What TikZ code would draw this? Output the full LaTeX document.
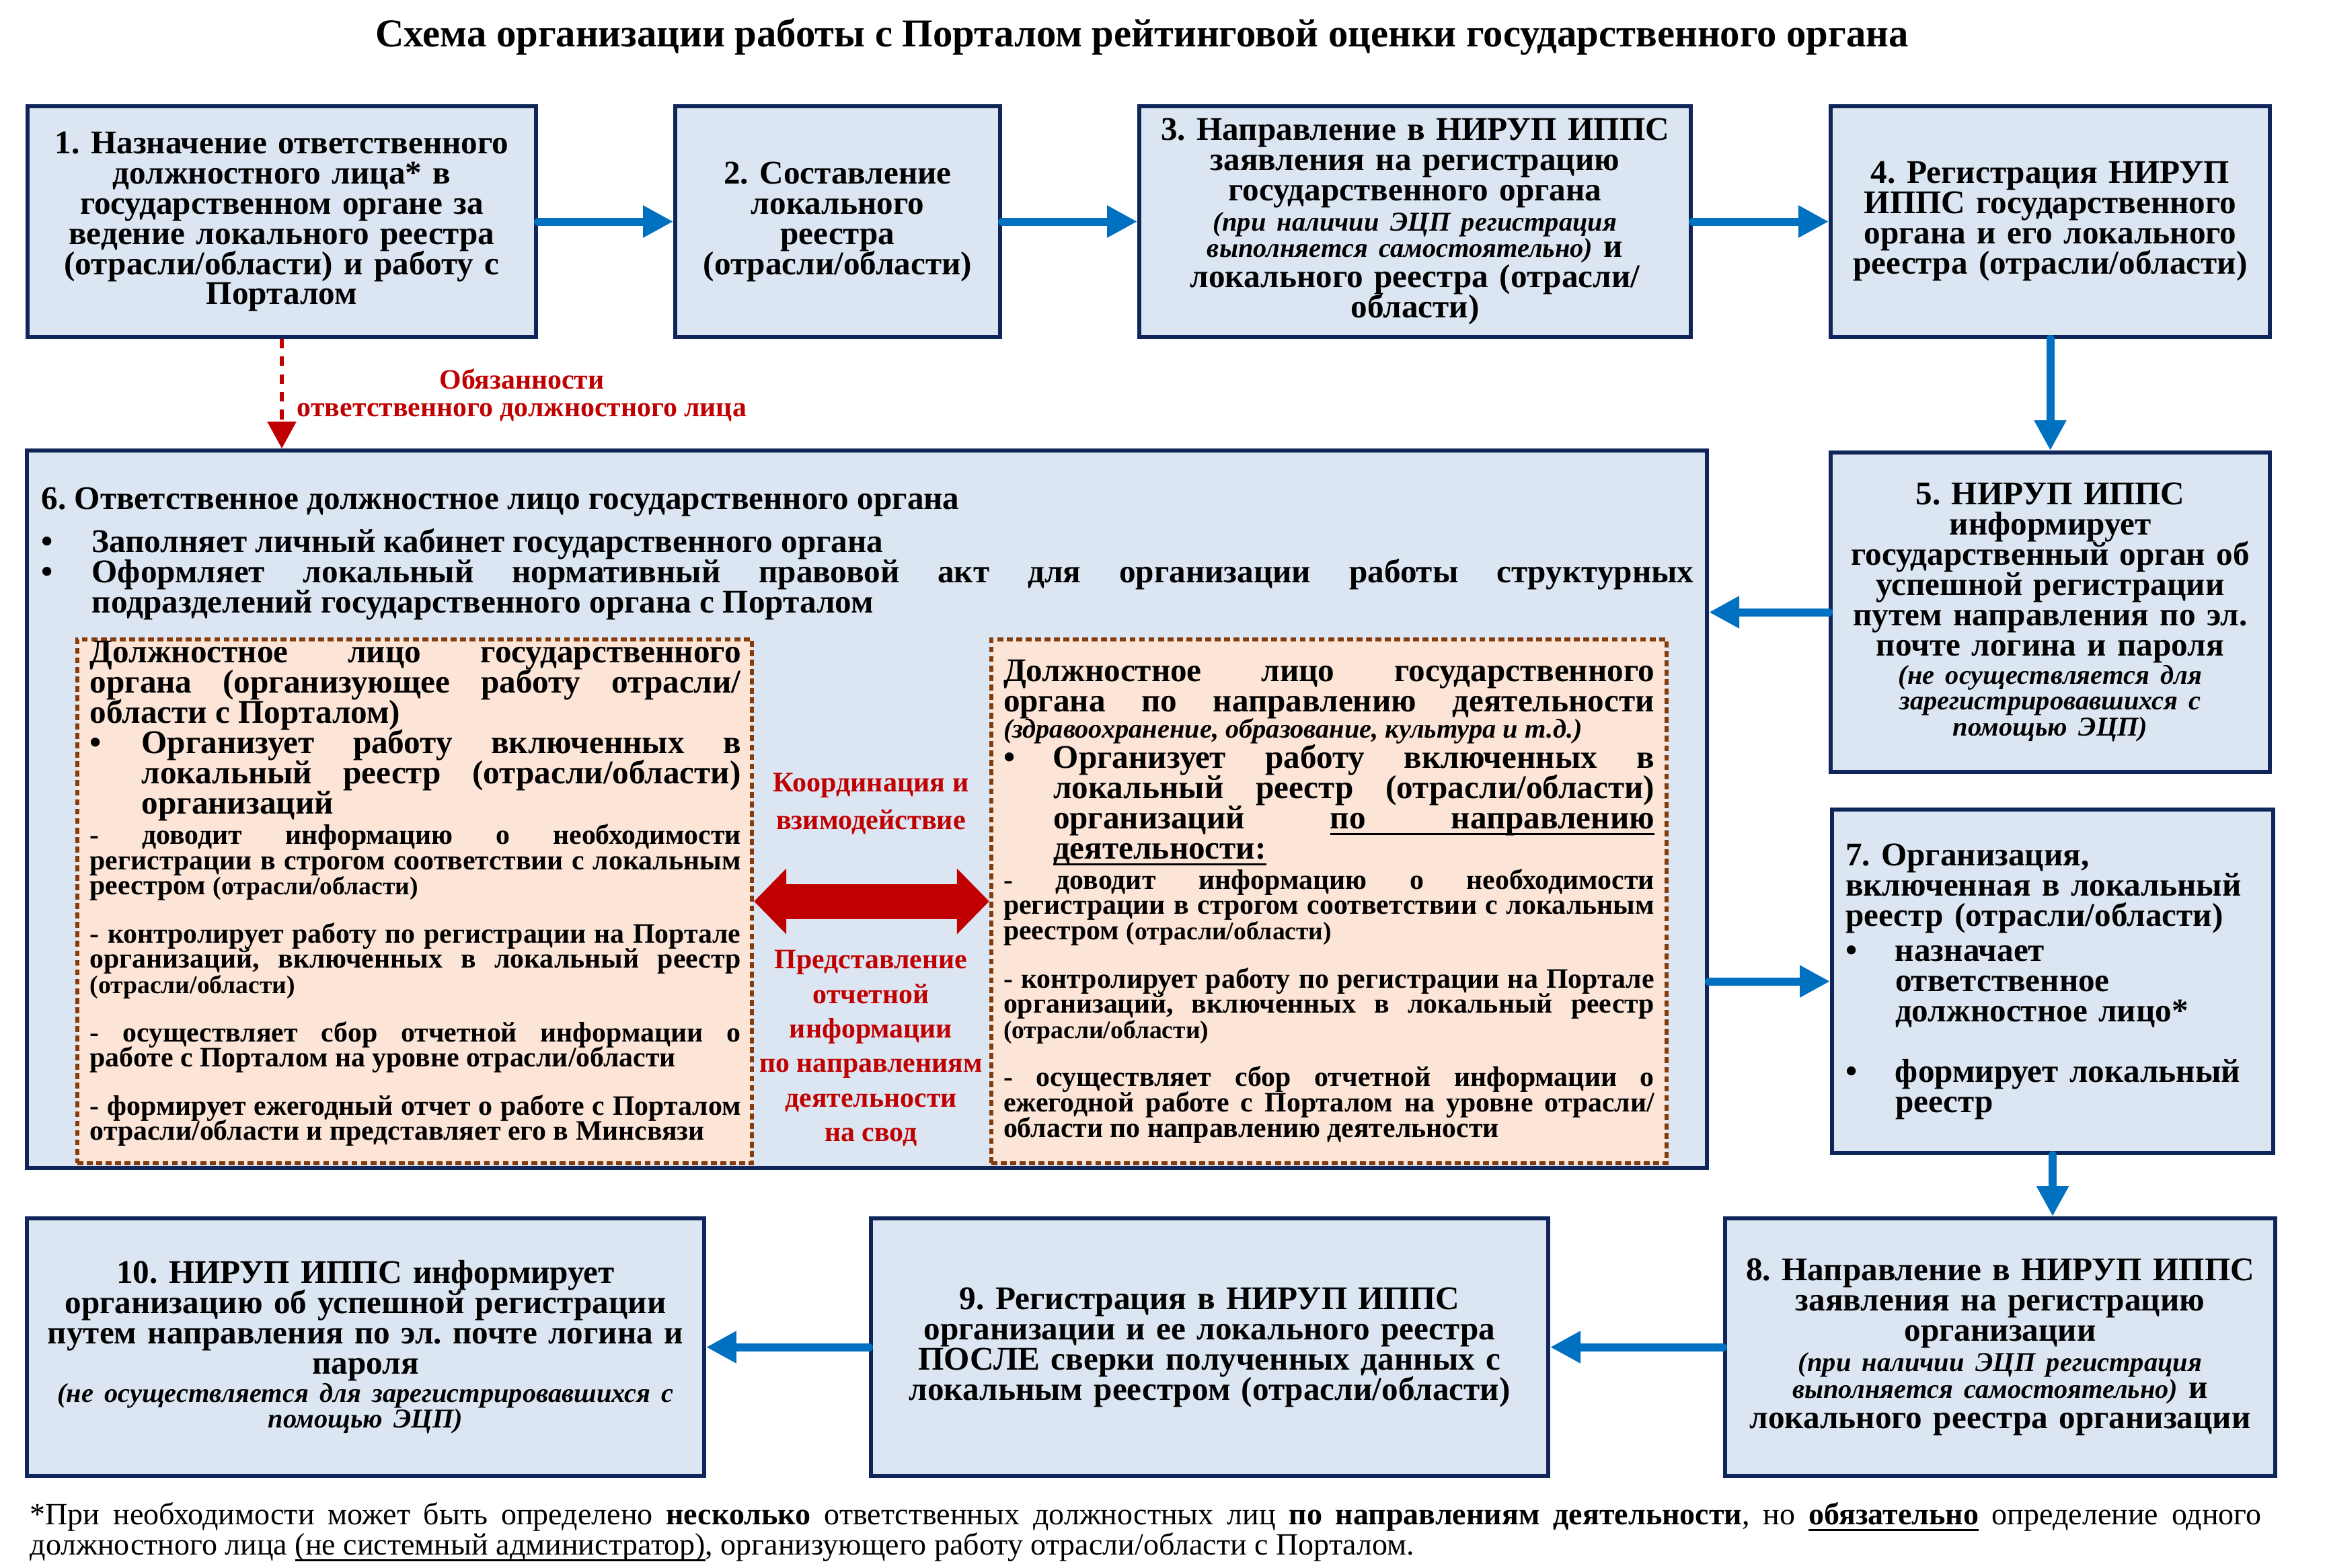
\documentclass[tikz,border=0pt]{standalone}
\usepackage{fontspec}
\setmainfont{Liberation Serif}
\usetikzlibrary{arrows.meta}

\definecolor{navyline}{RGB}{16,38,90}
\definecolor{boxfill}{HTML}{DCE6F2}
\definecolor{peach}{HTML}{FCE4D6}
\definecolor{brownline}{HTML}{843C0C}
\definecolor{darkred}{HTML}{C00000}
\definecolor{flowblue}{HTML}{0070C0}

\frenchspacing
\newcommand{\tightlines}{\lineskiplimit=-100pt\lineskip=0pt\relax}
\newcommand{\boxfont}{\fontsize{14}{12.8}\selectfont\bfseries\tightlines}
\newcommand{\smallfont}{\fontsize{11.9}{10.7}\selectfont\bfseries\tightlines}
\newcommand{\notefont}{\fontsize{11.5}{11.2}\selectfont\bfseries\itshape}
\newcommand{\parenfont}{\fontsize{10.7}{10.7}\selectfont\bfseries}
\newcommand{\redfont}{\fontsize{12}{15.9}\selectfont\bfseries}
\newcommand{\bitem}[2]{\par\noindent\hangindent=#1\hangafter=1\makebox[#1][l]{•}#2\par}
\newcommand{\ul}[1]{\setbox0\hbox{#1}\rlap{\vrule height -1.8pt depth 2.6pt width \wd0}\box0}
\newcommand{\ulgap}{\leaders\hrule height -1.8pt depth 2.6pt\hfill}

\begin{document}
\begin{tikzpicture}[
  stepbox/.style={draw=navyline, line width=1.7pt, fill=boxfill, inner sep=0pt, align=center, font=\boxfont},
  innerbox/.style={draw=brownline, line width=1.8pt, dash pattern=on 2.5pt off 1.5pt, fill=peach, inner sep=0pt,
    text width=9.68cm, align=justify, font=\boxfont},
  flow/.style={draw=flowblue, line width=0.12cm, line cap=round, -{Triangle[length=0.45cm,width=0.45cm]}},
  duty/.style={draw=darkred, line width=1.7pt, dash pattern=on 4pt off 3.5pt, -{Triangle[length=0.4cm,width=0.42cm]}},
  link/.style={draw=darkred, line width=0.52cm, {Triangle[length=0.48cm,width=0.95cm]}-{Triangle[length=0.48cm,width=0.95cm]}},
  redtext/.style={text=darkred, align=center, inner sep=0pt}
]
\fill[white] (0,0) rectangle (34.57,-23.31);
\useasboundingbox (0,0) rectangle (34.57,-23.31);

% title
\node[font=\fontsize{16.7}{16}\selectfont\bfseries, inner sep=0pt] (title) at (16.98,-0.55)
  {Схема организации работы с Порталом рейтинговой оценки государственного органа};

% top row
\node[stepbox, minimum width=7.56cm, minimum height=3.43cm, text width=7.3cm] (b1) at (4.19,-3.295)
  {1. Назначение ответственного\\ должностного лица* в\\ государственном органе за\\ ведение локального реестра\\ (отрасли/области) и работу с\\ Порталом};
\node[stepbox, minimum width=4.83cm, minimum height=3.43cm, text width=4.6cm] (b2) at (12.455,-3.295)
  {2. Составление\\ локального\\ реестра\\ (отрасли/области)};
\node[stepbox, minimum width=8.2cm, minimum height=3.43cm, text width=8.0cm] (b3) at (21.04,-3.295)
  {3. Направление в НИРУП ИППС\\ заявления на регистрацию\\ государственного органа\\ {\notefont (при наличии ЭЦП регистрация}\\[-1.5pt] {\notefont выполняется самостоятельно)} и\\ локального реестра (отрасли/\\ области)};
\node[stepbox, minimum width=6.53cm, minimum height=3.43cm, text width=6.35cm] (b4) at (30.485,-3.295)
  {4. Регистрация НИРУП\\ ИППС государственного\\ органа и его локального\\ реестра (отрасли/области)};

% right column
\node[stepbox, minimum width=6.53cm, minimum height=4.75cm, text width=6.4cm] (b5) at (30.485,-9.105)
  {5. НИРУП ИППС\\ информирует\\ государственный орган об\\ успешной регистрации\\ путем направления по эл.\\ почте логина и пароля\\[-1pt] {\notefont (не осуществляется для}\\[-1.8pt] {\notefont зарегистрировавшихся с}\\[-1.8pt] {\notefont помощью ЭЦП)}};
\node[stepbox, minimum width=6.56cm, minimum height=5.11cm, text width=6.16cm, align=left] (b7) at (30.52,-14.595)
  {7. Организация,\newline включенная в локальный\newline реестр (отрасли/области)\par\vspace{2pt}
   \bitem{0.74cm}{назначает\newline ответственное\newline должностное лицо*}\vspace{12.8pt}
   \bitem{0.74cm}{формирует локальный\newline реестр}};

% big box 6
\node[stepbox, minimum width=24.98cm, minimum height=10.67cm] (b6) at (12.89,-12.035) {};
\node[anchor=north west, inner sep=0pt, text width=24.57cm, align=justify, font=\boxfont] (b6txt) at (0.61,-7.24)
  {6. Ответственное должностное лицо государственного органа\par\vspace{5.5pt}
   \bitem{0.75cm}{Заполняет личный кабинет государственного органа}
   \bitem{0.75cm}{Оформляет локальный нормативный правовой акт для организации работы структурных\linebreak подразделений государственного органа с Порталом}};

\node[innerbox, minimum width=10.03cm, minimum height=7.79cm] (inL) at (6.165,-13.405) {};
\node[anchor=north west, inner sep=0pt, text width=9.68cm, align=justify, font=\boxfont] (inLtxt) at (1.33,-9.53)
  {Должностное лицо государственного\linebreak органа (организующее работу отрасли/\linebreak области с Порталом)\par
   \bitem{0.77cm}{Организует работу включенных в\linebreak локальный реестр (отрасли/области)\linebreak организаций}
   \smallfont\vspace{2pt}
   - доводит информацию о необходимости\linebreak регистрации в строгом соответствии с локальным\linebreak реестром {\parenfont(отрасли/области)}\par\vspace{0.34cm}
   - контролирует работу по регистрации на Портале\linebreak организаций, включенных в локальный реестр\linebreak {\parenfont(отрасли/области)}\par\vspace{0.34cm}
   - осуществляет сбор отчетной информации о\linebreak работе с Порталом на уровне отрасли/области\par\vspace{0.34cm}
   - формирует ежегодный отчет о работе с Порталом\linebreak отрасли/области и представляет его в Минсвязи\par};
\node[innerbox, minimum width=10.04cm, minimum height=7.79cm] (inR) at (19.76,-13.405)
  {Должностное лицо государственного\linebreak органа по направлению деятельности{\parfillskip=0pt\par}
   {\notefont (здравоохранение, образование, культура и т.д.)\par}
   \bitem{0.74cm}{Организует работу включенных в\linebreak локальный реестр (отрасли/области)\linebreak организаций\hfill\ul{по}\ulgap\ul{направлению}\linebreak \ul{деятельности:}}
   \smallfont\vspace{2pt}
   - доводит информацию о необходимости\linebreak регистрации в строгом соответствии с локальным\linebreak реестром {\parenfont(отрасли/области)}\par\vspace{0.34cm}
   - контролирует работу по регистрации на Портале\linebreak организаций, включенных в локальный реестр\linebreak {\parenfont(отрасли/области)}\par\vspace{0.34cm}
   - осуществляет сбор отчетной информации о\linebreak ежегодной работе с Порталом на уровне отрасли/\linebreak области по направлению деятельности\par};

\node[redtext, font=\redfont] (coord) at (12.95,-11.95) {Координация и\\ взимодействие};
\node[redtext, font=\fontsize{11.9}{14.6}\selectfont\bfseries] (report) at (12.95,-15.59)
  {Представление\\ отчетной\\ информации\\ по направлениям\\ деятельности\\ на свод};
\node[redtext, font=\fontsize{11.9}{11.7}\selectfont\bfseries] (duties) at (7.76,-5.875)
  {Обязанности\\ ответственного должностного лица};

% bottom row
\node[stepbox, minimum width=8.18cm, minimum height=3.83cm, text width=8.0cm] (b8) at (29.74,-20.035)
  {8. Направление в НИРУП ИППС\\ заявления на регистрацию\\ организации\\ {\notefont (при наличии ЭЦП регистрация}\\[-1.5pt] {\notefont выполняется самостоятельно)} и\\ локального реестра организации};
\node[stepbox, minimum width=10.07cm, minimum height=3.83cm, text width=9.8cm] (b9) at (17.985,-20.035)
  {9. Регистрация в НИРУП ИППС\\ организации и ее локального реестра\\ ПОСЛЕ сверки полученных данных с\\ локальным реестром (отрасли/области)};
\node[stepbox, minimum width=10.07cm, minimum height=3.83cm, text width=9.8cm] (b10) at (5.435,-20.035)
  {10. НИРУП ИППС информирует\\ организацию об успешной регистрации\\ путем направления по эл. почте логина и\\ пароля\\[-1pt] {\notefont (не осуществляется для зарегистрировавшихся с}\\[-1.8pt] {\notefont помощью ЭЦП)}};

% footnote
\node[anchor=north west, inner sep=0pt, text width=33.18cm, align=justify, font=\fontsize{13.1}{12.8}\selectfont\tightlines] (note) at (0.44,-22.34)
  {*При необходимости может быть определено \textbf{несколько} ответственных должностных лиц \textbf{по направлениям деятельности}, но \textbf{\ul{обязательно}} определение одного\linebreak должностного лица \ul{(не системный администратор)}, организующего работу отрасли/области с Порталом.};

% connectors
\draw[flow] (b1) -- (b2);
\draw[flow] (b2) -- (b3);
\draw[flow] (b3) -- (b4);
\draw[flow] (b4) -- (b5);
\draw[flow] (b5.west) -- (b5.west -| b6.east);
\draw[flow] (b6.east |- b7.west) -- (b7.west);
\draw[flow] (b7.south) -- (b7.south |- b8.north);
\draw[flow] (b8) -- (b9);
\draw[flow] (b9) -- (b10);
\draw[duty] (b1.south) -- (b1.south |- b6.north);
\draw[link] (inL.east) -- (inR.west);
\end{tikzpicture}
\end{document}
